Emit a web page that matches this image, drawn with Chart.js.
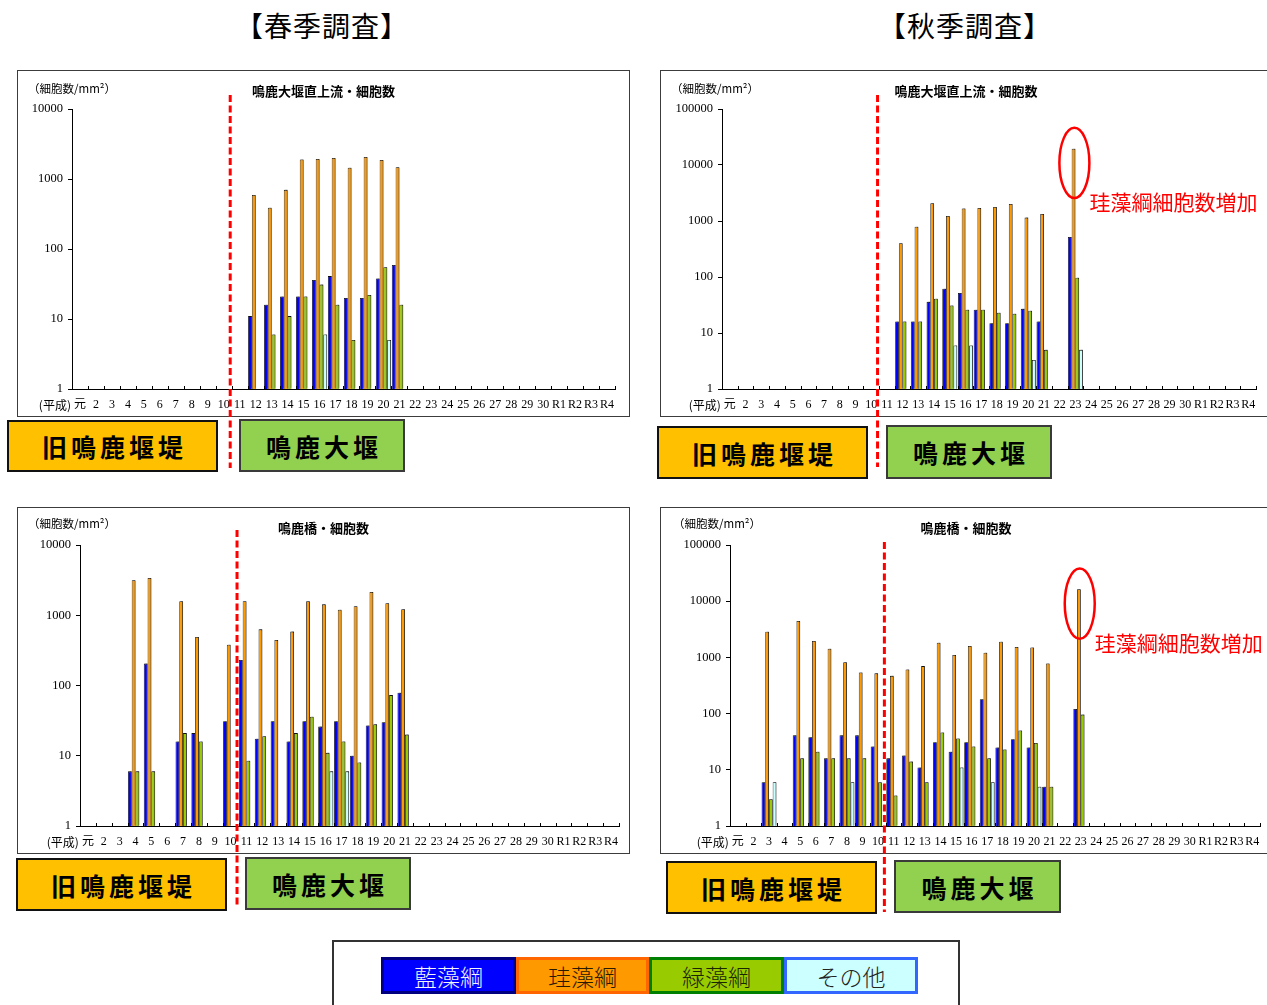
<!DOCTYPE html>
<html lang="ja">
<head>
<meta charset="utf-8">
<title>鳴鹿大堰 付着藻類 細胞数</title>
<script src="https://cdn.jsdelivr.net/npm/chart.js@4.4.1/dist/chart.umd.min.js"></script>
<style>
  html, body { margin: 0; padding: 0; background: #fff; }
  body { width: 1267px; height: 1005px; position: relative; overflow: hidden;
         font-family: 'Noto Sans CJK JP', sans-serif; }
  .season { position: absolute; top: 7px; font-size: 28px; line-height: 36px; color: #000;
            letter-spacing: 1px; transform: translateX(-50%); white-space: nowrap; }
  canvas { position: absolute; z-index: 1; }
  .tag { position: absolute; z-index: 2; box-sizing: border-box; display: flex;
         align-items: center; justify-content: center; font-weight: bold; font-size: 25px;
         letter-spacing: 4px; padding-left: 4px; color: #000; border: 2px solid #111; }
  .tag.old { background: #FFC000; }
  .tag.new { background: #92D050; border-color: #3a3a3a; }
  #legend { position: absolute; left: 332px; top: 940px; width: 628px; height: 72px;
            box-sizing: border-box; border: 2px solid #333; background: #fff; }
  .key { position: absolute; top: 15px; height: 37px; box-sizing: border-box; border: 3px solid;
         display: flex; align-items: center; justify-content: center; font-size: 23px; font-weight: 300; }
</style>
</head>
<body>
<div class="season" style="left:322px">【春季調査】</div>
<div class="season" style="left:965px">【秋季調査】</div>

<div class="tag old" style="left:7px;top:420px;width:211px;height:52px">旧鳴鹿堰堤</div>
<div class="tag new" style="left:239px;top:419px;width:166px;height:53px">鳴鹿大堰</div>
<div class="tag old" style="left:657px;top:426px;width:211px;height:53px">旧鳴鹿堰堤</div>
<div class="tag new" style="left:886px;top:425px;width:166px;height:54px">鳴鹿大堰</div>
<div class="tag old" style="left:16px;top:858px;width:211px;height:53px">旧鳴鹿堰堤</div>
<div class="tag new" style="left:245px;top:857px;width:166px;height:53px">鳴鹿大堰</div>
<div class="tag old" style="left:666px;top:861px;width:211px;height:53px">旧鳴鹿堰堤</div>
<div class="tag new" style="left:894px;top:860px;width:167px;height:53px">鳴鹿大堰</div>

<div id="legend"></div>

<script>
// Survey years (平成元年 … 令和4年)
const yearLabels = ['元','2','3','4','5','6','7','8','9','10',
                    '11','12','13','14','15','16','17','18','19','20',
                    '21','22','23','24','25','26','27','28','29','30',
                    'R1','R2','R3','R4'];

// First year after the new weir (鳴鹿大堰) came into service
const damBoundary = '11';
// Year in which the diatom count jumped in autumn
const diatomPeakYear = '23';

const yTicksSpring = [1, 10, 100, 1000, 10000];
const yTicksAutumn = [1, 10, 100, 1000, 10000, 100000];

const groupNames = ['藍藻綱', '珪藻綱', '緑藻綱', 'その他'];

const n = null;

// 春季 鳴鹿大堰直上流 (cells/mm²)
const springUpperBlue   = [n,n,n,n,n,n,n,n,n,n,  n,11,16,21,21,36,41,20,20,38,  59,n,n,n,n,n,n,n,n,n,  n,n,n,n];
const springUpperDiatom = [n,n,n,n,n,n,n,n,n,n,  n,590,390,700,1900,1930,2000,1450,2060,1870,  1470,n,n,n,n,n,n,n,n,n,  n,n,n,n];
const springUpperGreen  = [n,n,n,n,n,n,n,n,n,n,  n,n,6,11,21,31,16,5,22,55,  16,n,n,n,n,n,n,n,n,n,  n,n,n,n];
const springUpperOther  = [n,n,n,n,n,n,n,n,n,n,  n,n,n,n,n,6,n,n,n,5,  n,n,n,n,n,n,n,n,n,n,  n,n,n,n];

// 秋季 鳴鹿大堰直上流
const autumnUpperBlue   = [n,n,n,n,n,n,n,n,n,n,  n,16,16,36,62,52,26,15,15,27,  16,n,520,n,n,n,n,n,n,n,  n,n,n,n];
const autumnUpperDiatom = [n,n,n,n,n,n,n,n,n,n,  n,400,790,2070,1230,1680,1710,1780,2010,1150,  1330,n,19600,n,n,n,n,n,n,n,  n,n,n,n];
const autumnUpperGreen  = [n,n,n,n,n,n,n,n,n,n,  n,16,16,41,31,26,26,23,22,25,  5,n,97,n,n,n,n,n,n,n,  n,n,n,n];
const autumnUpperOther  = [n,n,n,n,n,n,n,n,n,n,  n,n,n,n,6,6,n,n,n,3.3,  n,n,5,n,n,n,n,n,n,n,  n,n,n,n];

// 春季 鳴鹿橋
const springBridgeBlue   = [n,n,n,6,205,n,16,21,n,31,  231,17.5,31,16,31,26,31,10,27,30,  79,n,n,n,n,n,n,n,n,n,  n,n,n,n];
const springBridgeDiatom = [n,n,n,3150,3400,n,1580,490,n,380,  1580,630,445,585,1580,1430,1200,1340,2150,1480,  1220,n,n,n,n,n,n,n,n,n,  n,n,n,n];
const springBridgeGreen  = [n,n,n,6,6,n,21,16,n,n,  8.5,19,n,21,36,11,16,8,28,73,  20,n,n,n,n,n,n,n,n,n,  n,n,n,n];
const springBridgeOther  = [n,n,n,n,n,n,n,n,n,n,  n,n,n,n,n,6,6,n,n,n,  n,n,n,n,n,n,n,n,n,n,  n,n,n,n];

// 秋季 鳴鹿橋
const autumnBridgeBlue   = [n,n,6,n,41,38,16,41,41,26,  16,18,11,31,21,31,180,25,35,25,  5,n,121,n,n,n,n,n,n,n,  n,n,n,n];
const autumnBridgeDiatom = [n,n,2870,n,4440,1960,1430,820,540,520,  470,610,700,1830,1100,1600,1210,1900,1530,1500,  780,n,16300,n,n,n,n,n,n,n,  n,n,n,n];
const autumnBridgeGreen  = [n,n,3,n,16,21,16,16,16,6,  3.5,14,6,46,36,26,16,23,50,30,  5,n,96,n,n,n,n,n,n,n,  n,n,n,n];
const autumnBridgeOther  = [n,n,6,n,n,n,n,6,n,n,  n,n,n,n,11,n,6,n,n,5,  n,n,n,n,n,n,n,n,n,n,  n,n,n,n];

// ---- styling ----
const groupFill   = ['#0000FF', '#FF9900', '#99CC00', '#CCFFFF'];
const keyBorder   = ['#000080', '#FF6600', '#008000', '#3366FF'];
const keyText     = ['#F4F4FF', '#2a1a00', '#1a2600', '#222'];
const unitText    = '（細胞数/mm²）';
const serifFont   = "'Liberation Serif','Noto Sans CJK JP',serif";
const gothicFont  = "'Noto Sans CJK JP',sans-serif";
const XH = 30;

const panels = [
  { left: 17,  top: 70,  width: 613, height: 406, boxH: 347,
    area: { left: 55, right: 598, top: 39, bottom: 319 },
    title: '鳴鹿大堰直上流・細胞数', titleY: 21, unit: [11, 19], red: [25, 398],
    yTicks: yTicksSpring,
    series: [springUpperBlue, springUpperDiatom, springUpperGreen, springUpperOther] },
  { left: 660, top: 70,  width: 612, height: 413, boxH: 347,
    area: { left: 62, right: 596, top: 39, bottom: 319 },
    title: '鳴鹿大堰直上流・細胞数', titleY: 21, unit: [11, 19], red: [25, 397],
    yTicks: yTicksAutumn, note: true,
    series: [autumnUpperBlue, autumnUpperDiatom, autumnUpperGreen, autumnUpperOther] },
  { left: 17,  top: 507, width: 613, height: 408, boxH: 347,
    area: { left: 63, right: 602, top: 38, bottom: 319 },
    title: '鳴鹿橋・細胞数', titleY: 21, unit: [11, 17], red: [23, 398],
    yTicks: yTicksSpring,
    series: [springBridgeBlue, springBridgeDiatom, springBridgeGreen, springBridgeOther] },
  { left: 660, top: 507, width: 612, height: 412, boxH: 347,
    area: { left: 70, right: 600, top: 38, bottom: 319 },
    title: '鳴鹿橋・細胞数', titleY: 21, unit: [13, 17], red: [35, 405],
    yTicks: yTicksAutumn, note: true,
    series: [autumnBridgeBlue, autumnBridgeDiatom, autumnBridgeGreen, autumnBridgeOther] }
];

// soft drop shadow behind every bar
const barShadow = {
  id: 'barShadow',
  beforeDatasetsDraw(chart) {
    const c = chart.ctx;
    c.save();
    c.shadowColor = 'rgba(0,0,0,0.4)';
    c.shadowOffsetX = 1.5;
    c.shadowOffsetY = -1;
    c.shadowBlur = 1;
  },
  afterDatasetsDraw(chart) { chart.ctx.restore(); }
};

function buildPanel(p) {
  const cv = document.createElement('canvas');
  cv.width = p.width;
  cv.height = p.height;
  cv.style.left = p.left + 'px';
  cv.style.top = p.top + 'px';
  document.body.appendChild(cv);

  const deco = {
    id: 'panelDeco',
    beforeDraw(chart) {
      const c = chart.ctx;
      c.save();
      c.strokeStyle = '#3c3c3c';
      c.lineWidth = 1;
      c.strokeRect(0.5, 0.5, p.width - 1, p.boxH - 1);
      c.restore();
    },
    afterDraw(chart) {
      const c = chart.ctx, xs = chart.scales.x, ys = chart.scales.y;
      const step = xs.getPixelForValue(1) - xs.getPixelForValue(0);
      const base = ys.bottom;
      c.save();

      // short inward ticks between years
      c.strokeStyle = '#000';
      c.lineWidth = 1;
      c.beginPath();
      for (let i = 0; i <= yearLabels.length; i++) {
        const x = Math.round(xs.getPixelForValue(i) - step / 2) + 0.5;
        c.moveTo(x, base);
        c.lineTo(x, base - 3);
      }
      c.stroke();

      // era prefix, unit and panel title
      c.fillStyle = '#000';
      c.textBaseline = 'middle';
      c.font = '12px ' + gothicFont;
      c.textAlign = 'right';
      c.fillText('(平成)', xs.getPixelForValue(0) - 9, base + 16);
      c.font = '11.5px ' + gothicFont;
      c.textAlign = 'left';
      c.fillText(unitText, p.unit[0], p.unit[1]);
      c.font = 'bold 13px ' + gothicFont;
      c.textAlign = 'center';
      c.fillText(p.title, p.width / 2, p.titleY);

      // boundary between the old weir and the new weir
      const bi = yearLabels.indexOf(damBoundary);
      const bx = (xs.getPixelForValue(bi - 1) + xs.getPixelForValue(bi)) / 2 - 1.5;
      c.strokeStyle = '#FF0000';
      c.lineWidth = 3;
      c.setLineDash([7, 3.5]);
      c.beginPath();
      c.moveTo(bx, p.red[0]);
      c.lineTo(bx, p.red[1]);
      c.stroke();
      c.setLineDash([]);

      // highlight of the diatom peak
      if (p.note) {
        const pi = yearLabels.indexOf(diatomPeakYear);
        const peak = p.series[1][pi];
        const yTop = ys.getPixelForValue(peak * 2.35);
        const yBot = ys.getPixelForValue(peak / 7.6);
        const cx = xs.getPixelForValue(pi) - 1;
        const rx = 15;
        c.strokeStyle = '#FF0000';
        c.lineWidth = 2.5;
        c.beginPath();
        c.ellipse(cx, (yTop + yBot) / 2, rx, (yBot - yTop) / 2, 0, 0, Math.PI * 2);
        c.stroke();
        c.fillStyle = '#FF0000';
        c.font = '21px ' + gothicFont;
        c.textAlign = 'left';
        c.fillText('珪藻綱細胞数増加', cx + rx, yBot + 4);
      }
      c.restore();
    }
  };

  new Chart(cv, {
    type: 'bar',
    data: {
      labels: yearLabels,
      datasets: groupNames.map((name, i) => ({
        label: name,
        data: p.series[i],
        backgroundColor: groupFill[i],
        borderColor: '#111',
        borderWidth: 0.8,
        borderSkipped: 'start',
        categoryPercentage: 0.95,
        barPercentage: 1
      }))
    },
    options: {
      responsive: false,
      animation: false,
      devicePixelRatio: 1,
      events: [],
      layout: { padding: { top: p.area.top, left: 0,
                           right: p.width - p.area.right,
                           bottom: p.height - p.area.bottom - XH } },
      plugins: { legend: { display: false }, tooltip: { enabled: false }, title: { display: false } },
      scales: {
        x: {
          offset: true,
          grid: { display: false, drawTicks: false },
          border: { display: true, color: '#000', width: 1 },
          ticks: { autoSkip: false, maxRotation: 0, minRotation: 0, padding: 9, color: '#000',
                   font: { family: serifFont, size: 12 } },
          afterFit(s) { s.height = XH; }
        },
        y: {
          type: 'logarithmic',
          min: p.yTicks[0],
          max: p.yTicks[p.yTicks.length - 1],
          afterBuildTicks(s) { s.ticks = p.yTicks.map(v => ({ value: v })); },
          grid: { drawOnChartArea: false, drawTicks: true, tickLength: 4, color: '#000' },
          border: { display: true, color: '#000', width: 1 },
          ticks: { padding: 5, color: '#000', font: { family: serifFont, size: 12.5 },
                   callback: v => String(v) },
          afterFit(s) { s.width = p.area.left; }
        }
      }
    },
    plugins: [barShadow, deco]
  });
}

panels.forEach(buildPanel);

// shared legend
const legend = document.getElementById('legend');
const keyLeft = [47, 182, 315, 450];
const keyWidth = [135, 133, 135, 134];
groupNames.forEach((name, i) => {
  const k = document.createElement('div');
  k.className = 'key';
  k.textContent = name;
  k.style.left = keyLeft[i] + 'px';
  k.style.width = keyWidth[i] + 'px';
  k.style.background = groupFill[i];
  k.style.borderColor = keyBorder[i];
  k.style.color = keyText[i];
  legend.appendChild(k);
});
</script>
</body>
</html>
